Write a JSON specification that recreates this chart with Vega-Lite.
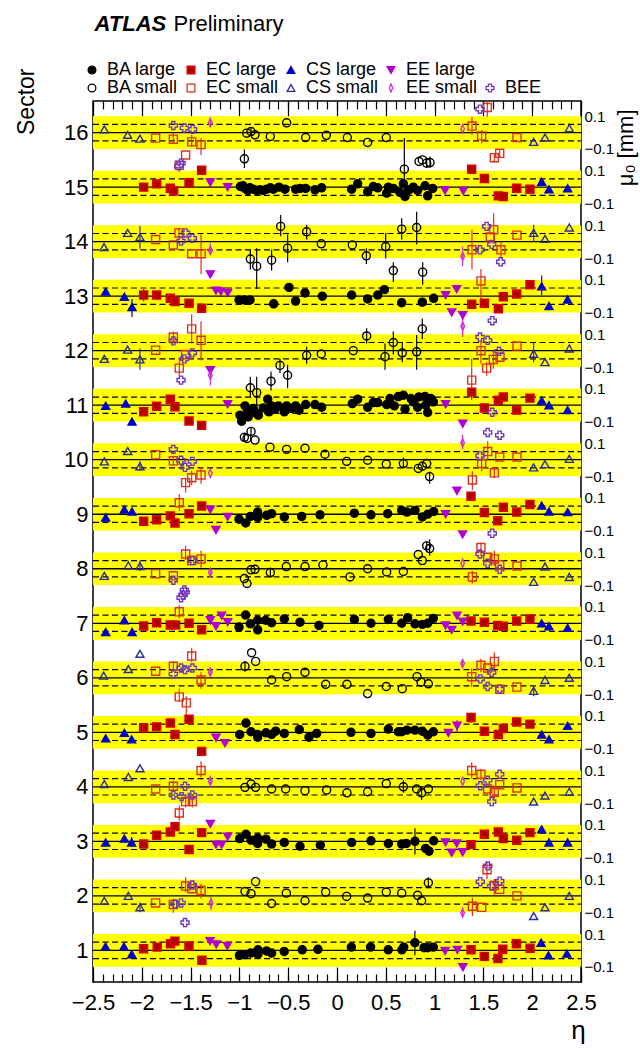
{
"$schema":"https://vega.github.io/schema/vega-lite/v6.json",
"autosize":{"type":"none"},
"padding":{"left":93,"top":101,"right":59,"bottom":76},
"width":488,"height":881,
"config":{"font":"Liberation Sans","view":{"stroke":"black","strokeWidth":1.5},"axis":{"labelColor":"black","titleColor":"black","tickColor":"black","grid":false,"domain":false,"labelFlush":false,"labelOverlap":false,"labelBound":false},"legend":{"labelColor":"black"}},
"datasets":{
"sec":[
{"sector":1,"bandlo":0.7,"bandhi":1.3,"dashlo":0.85,"dashhi":1.15},
{"sector":2,"bandlo":1.7,"bandhi":2.3,"dashlo":1.85,"dashhi":2.15},
{"sector":3,"bandlo":2.7,"bandhi":3.3,"dashlo":2.85,"dashhi":3.15},
{"sector":4,"bandlo":3.7,"bandhi":4.3,"dashlo":3.85,"dashhi":4.15},
{"sector":5,"bandlo":4.7,"bandhi":5.3,"dashlo":4.85,"dashhi":5.15},
{"sector":6,"bandlo":5.7,"bandhi":6.3,"dashlo":5.85,"dashhi":6.15},
{"sector":7,"bandlo":6.7,"bandhi":7.3,"dashlo":6.85,"dashhi":7.15},
{"sector":8,"bandlo":7.7,"bandhi":8.3,"dashlo":7.85,"dashhi":8.15},
{"sector":9,"bandlo":8.7,"bandhi":9.3,"dashlo":8.85,"dashhi":9.15},
{"sector":10,"bandlo":9.7,"bandhi":10.3,"dashlo":9.85,"dashhi":10.15},
{"sector":11,"bandlo":10.7,"bandhi":11.3,"dashlo":10.85,"dashhi":11.15},
{"sector":12,"bandlo":11.7,"bandhi":12.3,"dashlo":11.85,"dashhi":12.15},
{"sector":13,"bandlo":12.7,"bandhi":13.3,"dashlo":12.85,"dashhi":13.15},
{"sector":14,"bandlo":13.7,"bandhi":14.3,"dashlo":13.85,"dashhi":14.15},
{"sector":15,"bandlo":14.7,"bandhi":15.3,"dashlo":14.85,"dashhi":15.15},
{"sector":16,"bandlo":15.7,"bandhi":16.3,"dashlo":15.85,"dashhi":16.15}
],
"pts":[
{"series":"CS small","eta":-2.384,"pos":16.06},{"series":"CS small","eta":-2.145,"pos":15.96},{"series":"CS small","eta":-2.019,"pos":15.89},{"series":"CS small","eta":2.015,"pos":15.83},{"series":"CS small","eta":2.131,"pos":15.91},{"series":"CS small","eta":2.38,"pos":16.08},
{"series":"EC small","eta":-1.858,"pos":15.9},{"series":"EC small","eta":-1.677,"pos":15.88,"lo":15.79,"hi":15.99},{"series":"EC small","eta":-1.489,"pos":15.83,"lo":15.74,"hi":15.96},{"series":"EC small","eta":-1.393,"pos":15.78,"lo":15.59,"hi":15.9},{"series":"EC small","eta":-1.551,"pos":15.59},{"series":"EC small","eta":-1.616,"pos":15.4,"lo":15.28,"hi":15.48},{"series":"EC small","eta":1.383,"pos":16.12,"lo":15.96,"hi":16.29},{"series":"EC small","eta":1.482,"pos":15.94,"lo":15.8,"hi":16.05},{"series":"EC small","eta":1.54,"pos":16.46,"lo":16.29,"hi":16.58},{"series":"EC small","eta":1.612,"pos":15.54,"lo":15.45,"hi":15.62},{"series":"EC small","eta":1.667,"pos":15.62,"lo":15.55,"hi":15.7},{"series":"EC small","eta":1.844,"pos":15.91},
{"series":"BEE","eta":-1.677,"pos":16.13},{"series":"BEE","eta":-1.564,"pos":16.085},{"series":"BEE","eta":-1.479,"pos":16.06},{"series":"BEE","eta":-1.598,"pos":15.44},{"series":"BEE","eta":-1.62,"pos":15.39},{"series":"BEE","eta":1.465,"pos":16.43},
{"series":"EE small","eta":-1.298,"pos":16.18,"lo":16.11,"hi":16.28},{"series":"EE small","eta":1.287,"pos":16.07},
{"series":"BA small","eta":-0.949,"pos":15.52,"lo":15.35,"hi":15.69},{"series":"BA small","eta":-0.925,"pos":15.99},{"series":"BA small","eta":-0.881,"pos":16.02,"lo":15.95,"hi":16.1},{"series":"BA small","eta":-0.84,"pos":15.96},{"series":"BA small","eta":-0.683,"pos":15.93},{"series":"BA small","eta":-0.516,"pos":16.18},{"series":"BA small","eta":-0.321,"pos":15.91},{"series":"BA small","eta":-0.109,"pos":15.95},{"series":"BA small","eta":0.106,"pos":15.91},{"series":"BA small","eta":0.314,"pos":15.82},{"series":"BA small","eta":0.505,"pos":15.91},{"series":"BA small","eta":0.69,"pos":15.33,"lo":14.85,"hi":15.9},{"series":"BA small","eta":0.84,"pos":15.47},{"series":"BA small","eta":0.874,"pos":15.5},{"series":"BA small","eta":0.919,"pos":15.44,"lo":15.35,"hi":15.55},{"series":"BA small","eta":0.953,"pos":15.45,"lo":15.35,"hi":15.56},
{"series":"EC large","eta":-1.981,"pos":15.0},{"series":"EC large","eta":-1.848,"pos":15.06},{"series":"EC large","eta":-1.708,"pos":14.98},{"series":"EC large","eta":-1.674,"pos":14.93},{"series":"EC large","eta":-1.516,"pos":15.08},{"series":"EC large","eta":-1.387,"pos":15.31},{"series":"EC large","eta":1.38,"pos":15.33},{"series":"EC large","eta":1.51,"pos":15.16},{"series":"EC large","eta":1.653,"pos":14.84},{"series":"EC large","eta":1.704,"pos":14.83},{"series":"EC large","eta":1.841,"pos":14.98},{"series":"EC large","eta":1.977,"pos":14.96},
{"series":"EE large","eta":-1.298,"pos":15.085},{"series":"EE large","eta":-1.12,"pos":15.0},{"series":"EE large","eta":1.107,"pos":14.94},{"series":"EE large","eta":1.294,"pos":14.93},
{"series":"CS large","eta":2.097,"pos":15.1},{"series":"CS large","eta":2.172,"pos":14.96},{"series":"CS large","eta":2.363,"pos":14.98},
{"series":"BA large","eta":-0.99,"pos":15.012},{"series":"BA large","eta":-0.963,"pos":15.024},{"series":"BA large","eta":-0.943,"pos":14.976},{"series":"BA large","eta":-0.915,"pos":14.939},{"series":"BA large","eta":-0.891,"pos":14.988},{"series":"BA large","eta":-0.857,"pos":14.963},{"series":"BA large","eta":-0.823,"pos":14.939},{"series":"BA large","eta":-0.789,"pos":14.951},{"series":"BA large","eta":-0.755,"pos":14.939},{"series":"BA large","eta":-0.721,"pos":14.963},{"series":"BA large","eta":-0.683,"pos":14.988},{"series":"BA large","eta":-0.652,"pos":14.963},{"series":"BA large","eta":-0.594,"pos":15.0},{"series":"BA large","eta":-0.533,"pos":14.963},{"series":"BA large","eta":-0.424,"pos":14.963},{"series":"BA large","eta":-0.379,"pos":14.976},{"series":"BA large","eta":-0.321,"pos":14.976},{"series":"BA large","eta":-0.225,"pos":14.951},{"series":"BA large","eta":-0.157,"pos":14.988},
{"series":"BA large","eta":0.15,"pos":14.963},{"series":"BA large","eta":0.212,"pos":15.061},{"series":"BA large","eta":0.314,"pos":14.915},{"series":"BA large","eta":0.372,"pos":15.012},{"series":"BA large","eta":0.417,"pos":14.988},{"series":"BA large","eta":0.509,"pos":14.89},{"series":"BA large","eta":0.526,"pos":15.0},{"series":"BA large","eta":0.577,"pos":14.976},{"series":"BA large","eta":0.645,"pos":14.902},{"series":"BA large","eta":0.68,"pos":15.061},{"series":"BA large","eta":0.697,"pos":14.829},{"series":"BA large","eta":0.738,"pos":14.951},{"series":"BA large","eta":0.782,"pos":15.0},{"series":"BA large","eta":0.826,"pos":14.939},{"series":"BA large","eta":0.902,"pos":15.024},{"series":"BA large","eta":0.929,"pos":14.841},{"series":"BA large","eta":0.98,"pos":14.976},
{"series":"CS small","eta":-2.387,"pos":13.9},{"series":"CS small","eta":-2.145,"pos":14.16},{"series":"CS small","eta":-2.019,"pos":14.085,"lo":13.87,"hi":14.29},{"series":"CS small","eta":2.015,"pos":14.16,"lo":14.0,"hi":14.31},{"series":"CS small","eta":2.131,"pos":14.05},{"series":"CS small","eta":2.38,"pos":14.26},
{"series":"EC small","eta":-1.858,"pos":14.04},{"series":"EC small","eta":-1.619,"pos":14.16,"lo":14.07,"hi":14.25},{"series":"EC small","eta":-1.677,"pos":13.94},{"series":"EC small","eta":-1.489,"pos":13.78},{"series":"EC small","eta":-1.393,"pos":13.78,"lo":13.4,"hi":14.13},{"series":"EC small","eta":1.383,"pos":13.85,"lo":13.49,"hi":14.22},{"series":"EC small","eta":1.605,"pos":14.22,"lo":14.04,"hi":14.52},{"series":"EC small","eta":1.571,"pos":14.085},{"series":"EC small","eta":1.68,"pos":13.85,"lo":13.72,"hi":14.0},{"series":"EC small","eta":1.844,"pos":14.12},
{"series":"BEE","eta":-1.551,"pos":14.16},{"series":"BEE","eta":-1.598,"pos":14.01},{"series":"BEE","eta":-1.482,"pos":14.06},{"series":"BEE","eta":1.465,"pos":13.85},{"series":"BEE","eta":1.533,"pos":14.28},{"series":"BEE","eta":1.585,"pos":13.95},{"series":"BEE","eta":1.677,"pos":13.63},
{"series":"EE small","eta":-1.298,"pos":13.84,"lo":13.78,"hi":13.97},{"series":"EE small","eta":1.287,"pos":13.73,"lo":13.55,"hi":13.91},
{"series":"EE large","eta":-1.298,"pos":13.4},
{"series":"BA small","eta":-0.888,"pos":13.68,"lo":13.49,"hi":13.85},{"series":"BA small","eta":-0.823,"pos":13.55,"lo":13.13,"hi":13.88},{"series":"BA small","eta":-0.67,"pos":13.66,"lo":13.47,"hi":13.85},{"series":"BA small","eta":-0.577,"pos":14.28,"lo":14.1,"hi":14.49},{"series":"BA small","eta":-0.506,"pos":13.88,"lo":13.62,"hi":14.13},{"series":"BA small","eta":-0.311,"pos":14.18,"lo":14.04,"hi":14.31},{"series":"BA small","eta":-0.161,"pos":13.96},{"series":"BA small","eta":0.157,"pos":13.94},{"series":"BA small","eta":0.301,"pos":13.74,"lo":13.59,"hi":13.88},{"series":"BA small","eta":0.499,"pos":13.91,"lo":13.69,"hi":14.16},{"series":"BA small","eta":0.663,"pos":14.23,"lo":14.04,"hi":14.43},{"series":"BA small","eta":0.816,"pos":14.26,"lo":13.95,"hi":14.55},{"series":"BA small","eta":0.577,"pos":13.47,"lo":13.26,"hi":13.62},{"series":"BA small","eta":0.878,"pos":13.44,"lo":13.21,"hi":13.62},
{"series":"CS large","eta":-2.37,"pos":13.085},{"series":"CS large","eta":-2.179,"pos":12.99},{"series":"CS large","eta":-2.1,"pos":12.8,"lo":12.62,"hi":12.95},{"series":"CS large","eta":2.097,"pos":13.18,"lo":13.02,"hi":13.38},{"series":"CS large","eta":2.172,"pos":12.82},{"series":"CS large","eta":2.363,"pos":12.94},
{"series":"EC large","eta":-1.981,"pos":13.02,"lo":12.9,"hi":13.13},{"series":"EC large","eta":-1.848,"pos":13.02},{"series":"EC large","eta":-1.708,"pos":12.96},{"series":"EC large","eta":-1.66,"pos":12.9},{"series":"EC large","eta":-1.516,"pos":12.87},{"series":"EC large","eta":-1.387,"pos":12.78},{"series":"EC large","eta":1.38,"pos":12.85},{"series":"EC large","eta":1.51,"pos":12.87},{"series":"EC large","eta":1.653,"pos":12.77},{"series":"EC large","eta":1.704,"pos":12.99},{"series":"EC large","eta":1.841,"pos":13.04},{"series":"EC large","eta":1.977,"pos":13.21},
{"series":"EE large","eta":-1.24,"pos":13.1},{"series":"EE large","eta":-1.189,"pos":13.085},{"series":"EE large","eta":-1.12,"pos":13.06},{"series":"EE large","eta":1.113,"pos":13.02},{"series":"EE large","eta":1.226,"pos":13.13},{"series":"EE large","eta":1.175,"pos":12.7},{"series":"EE large","eta":1.288,"pos":12.65},
{"series":"EE small","eta":1.288,"pos":12.45,"lo":12.25,"hi":12.65},
{"series":"EC small","eta":1.475,"pos":13.28,"lo":12.95,"hi":13.5},
{"series":"BEE","eta":1.591,"pos":12.55},
{"series":"BA large","eta":-1.004,"pos":12.93},{"series":"BA large","eta":-0.95,"pos":12.93},{"series":"BA large","eta":-0.891,"pos":12.93},{"series":"BA large","eta":-0.649,"pos":12.86},{"series":"BA large","eta":-0.492,"pos":13.16},{"series":"BA large","eta":-0.424,"pos":12.91},{"series":"BA large","eta":-0.328,"pos":13.06},{"series":"BA large","eta":-0.15,"pos":13.0},{"series":"BA large","eta":0.15,"pos":13.02},{"series":"BA large","eta":0.314,"pos":12.95},{"series":"BA large","eta":0.417,"pos":13.02},{"series":"BA large","eta":0.485,"pos":13.12},{"series":"BA large","eta":0.663,"pos":12.88},{"series":"BA large","eta":0.874,"pos":12.89},{"series":"BA large","eta":0.99,"pos":12.96},
{"series":"CS small","eta":-2.384,"pos":11.85},{"series":"CS small","eta":-2.145,"pos":12.02},{"series":"CS small","eta":-2.019,"pos":11.84,"lo":11.65,"hi":12.04},{"series":"CS small","eta":2.015,"pos":11.945,"lo":11.79,"hi":12.16},{"series":"CS small","eta":2.131,"pos":11.79},{"series":"CS small","eta":2.38,"pos":12.04},
{"series":"EC small","eta":-1.858,"pos":12.01},{"series":"EC small","eta":-1.677,"pos":12.25,"lo":12.13,"hi":12.35},{"series":"EC small","eta":-1.489,"pos":12.4,"lo":12.13,"hi":12.67},{"series":"EC small","eta":-1.393,"pos":12.19,"lo":11.82,"hi":12.54},{"series":"EC small","eta":-1.551,"pos":11.93},{"series":"EC small","eta":-1.616,"pos":11.68,"lo":11.54,"hi":11.82},{"series":"EC small","eta":1.475,"pos":12.0,"lo":11.76,"hi":12.19},{"series":"EC small","eta":1.533,"pos":11.68,"lo":11.54,"hi":11.79},{"series":"EC small","eta":1.602,"pos":11.84,"lo":11.67,"hi":12.0},{"series":"EC small","eta":1.67,"pos":11.88},{"series":"EC small","eta":1.844,"pos":12.085},{"series":"EC small","eta":1.38,"pos":11.46,"lo":11.19,"hi":11.85},
{"series":"BEE","eta":-1.677,"pos":12.18},{"series":"BEE","eta":-1.482,"pos":11.96},{"series":"BEE","eta":-1.564,"pos":11.85},{"series":"BEE","eta":-1.598,"pos":11.46},{"series":"BEE","eta":1.465,"pos":12.25},{"series":"BEE","eta":1.544,"pos":12.19},{"series":"BEE","eta":1.66,"pos":11.99},
{"series":"EE large","eta":-1.298,"pos":11.64},
{"series":"EE small","eta":-1.298,"pos":11.55,"lo":11.36,"hi":11.64},
{"series":"BA small","eta":-0.888,"pos":11.32,"lo":11.13,"hi":11.52},{"series":"BA small","eta":-0.823,"pos":11.23,"lo":11.0,"hi":11.52},{"series":"BA small","eta":-0.676,"pos":11.44,"lo":11.27,"hi":11.62},{"series":"BA small","eta":-0.506,"pos":11.55,"lo":11.31,"hi":11.74},{"series":"BA small","eta":-0.584,"pos":11.73,"lo":11.59,"hi":11.85},{"series":"BA small","eta":-0.311,"pos":11.915,"lo":11.76,"hi":12.07},{"series":"BA small","eta":-0.161,"pos":11.94},{"series":"BA small","eta":0.167,"pos":12.0},{"series":"BA small","eta":0.304,"pos":12.27,"lo":12.13,"hi":12.41},{"series":"BA small","eta":0.492,"pos":11.89,"lo":11.65,"hi":12.13},{"series":"BA small","eta":0.577,"pos":12.15,"lo":11.93,"hi":12.35},{"series":"BA small","eta":0.669,"pos":11.96,"lo":11.79,"hi":12.16},{"series":"BA small","eta":0.816,"pos":11.98,"lo":11.65,"hi":12.29},{"series":"BA small","eta":0.874,"pos":12.4,"lo":12.21,"hi":12.59},
{"series":"CS large","eta":-2.37,"pos":10.99},{"series":"CS large","eta":-2.165,"pos":11.03},{"series":"CS large","eta":-2.1,"pos":10.7},{"series":"CS large","eta":2.097,"pos":11.085},{"series":"CS large","eta":2.172,"pos":11.0},{"series":"CS large","eta":2.363,"pos":10.91},
{"series":"EC large","eta":-1.981,"pos":10.88},{"series":"EC large","eta":-1.848,"pos":10.98},{"series":"EC large","eta":-1.708,"pos":11.11},{"series":"EC large","eta":-1.66,"pos":10.97,"lo":10.9,"hi":11.06},{"series":"EC large","eta":-1.516,"pos":10.71},{"series":"EC large","eta":-1.387,"pos":10.63},{"series":"EC large","eta":1.38,"pos":11.24,"lo":11.1,"hi":11.33},{"series":"EC large","eta":1.51,"pos":10.95},{"series":"EC large","eta":1.653,"pos":11.09},{"series":"EC large","eta":1.704,"pos":11.15},{"series":"EC large","eta":1.841,"pos":10.91},{"series":"EC large","eta":1.977,"pos":11.13},
{"series":"EE large","eta":-1.12,"pos":11.02},{"series":"EE large","eta":1.113,"pos":11.02},{"series":"EE large","eta":1.288,"pos":10.66},
{"series":"BEE","eta":1.591,"pos":10.87},
{"series":"BA large","eta":-0.994,"pos":10.817},{"series":"BA large","eta":-0.977,"pos":10.707},{"series":"BA large","eta":-0.943,"pos":10.988},{"series":"BA large","eta":-0.915,"pos":10.89},{"series":"BA large","eta":-0.909,"pos":10.787},{"series":"BA large","eta":-0.857,"pos":10.939},{"series":"BA large","eta":-0.823,"pos":10.848},{"series":"BA large","eta":-0.806,"pos":10.817},{"series":"BA large","eta":-0.755,"pos":10.951},{"series":"BA large","eta":-0.71,"pos":11.11},{"series":"BA large","eta":-0.697,"pos":10.878},{"series":"BA large","eta":-0.67,"pos":10.988},{"series":"BA large","eta":-0.635,"pos":10.927},{"series":"BA large","eta":-0.601,"pos":10.988},{"series":"BA large","eta":-0.54,"pos":10.878},{"series":"BA large","eta":-0.516,"pos":10.988},{"series":"BA large","eta":-0.465,"pos":10.939},{"series":"BA large","eta":-0.424,"pos":10.988},{"series":"BA large","eta":-0.389,"pos":10.909},{"series":"BA large","eta":-0.321,"pos":11.012},{"series":"BA large","eta":-0.225,"pos":11.012},{"series":"BA large","eta":-0.157,"pos":10.963},
{"series":"BA large","eta":0.157,"pos":11.03},{"series":"BA large","eta":0.212,"pos":11.11},{"series":"BA large","eta":0.314,"pos":10.963},{"series":"BA large","eta":0.372,"pos":11.049},{"series":"BA large","eta":0.417,"pos":11.049},{"series":"BA large","eta":0.509,"pos":11.012},{"series":"BA large","eta":0.543,"pos":11.122},{"series":"BA large","eta":0.587,"pos":10.988},{"series":"BA large","eta":0.628,"pos":11.159},{"series":"BA large","eta":0.68,"pos":11.183},{"series":"BA large","eta":0.697,"pos":10.927},{"series":"BA large","eta":0.758,"pos":11.122},{"series":"BA large","eta":0.782,"pos":11.061},{"series":"BA large","eta":0.826,"pos":10.963},{"series":"BA large","eta":0.84,"pos":11.152},{"series":"BA large","eta":0.902,"pos":11.159},{"series":"BA large","eta":0.908,"pos":11.0},{"series":"BA large","eta":0.929,"pos":10.866},{"series":"BA large","eta":0.963,"pos":11.122},{"series":"BA large","eta":0.987,"pos":11.061},
{"series":"BA small","eta":-0.949,"pos":10.41,"lo":10.33,"hi":10.5},{"series":"BA small","eta":-0.922,"pos":10.39},{"series":"BA small","eta":-0.881,"pos":10.52,"lo":10.44,"hi":10.6},{"series":"BA small","eta":-0.84,"pos":10.36},
{"series":"CS small","eta":-2.384,"pos":9.97},{"series":"CS small","eta":-2.145,"pos":10.16},{"series":"CS small","eta":-2.019,"pos":9.88,"lo":9.8,"hi":9.97},{"series":"CS small","eta":2.015,"pos":9.86},{"series":"CS small","eta":2.131,"pos":9.92},{"series":"CS small","eta":2.38,"pos":10.015},
{"series":"EC small","eta":-1.858,"pos":10.09},{"series":"EC small","eta":-1.677,"pos":9.98,"lo":9.89,"hi":10.07},{"series":"EC small","eta":-1.551,"pos":9.58,"lo":9.4,"hi":9.67},{"series":"EC small","eta":-1.489,"pos":9.67,"lo":9.53,"hi":9.8},{"series":"EC small","eta":-1.393,"pos":9.72,"lo":9.56,"hi":9.86},{"series":"EC small","eta":1.544,"pos":10.15,"lo":9.98,"hi":10.34},{"series":"EC small","eta":1.482,"pos":9.93,"lo":9.79,"hi":10.07},{"series":"EC small","eta":1.667,"pos":10.05},{"series":"EC small","eta":1.612,"pos":9.76,"lo":9.66,"hi":9.86},{"series":"EC small","eta":1.844,"pos":10.05},{"series":"EC small","eta":1.387,"pos":9.63,"lo":9.45,"hi":9.79},
{"series":"BEE","eta":-1.677,"pos":10.19},{"series":"BEE","eta":-1.598,"pos":9.99},{"series":"BEE","eta":-1.557,"pos":9.86},{"series":"BEE","eta":-1.482,"pos":9.97},{"series":"BEE","eta":1.544,"pos":10.5},{"series":"BEE","eta":1.667,"pos":10.45},{"series":"BEE","eta":1.465,"pos":10.07},
{"series":"EE small","eta":-1.298,"pos":9.75},{"series":"EE small","eta":1.287,"pos":10.31,"lo":10.19,"hi":10.46},
{"series":"BA small","eta":-0.687,"pos":10.23},{"series":"BA small","eta":-0.516,"pos":10.19},{"series":"BA small","eta":-0.328,"pos":10.21},{"series":"BA small","eta":-0.123,"pos":10.1},{"series":"BA small","eta":0.099,"pos":9.97},{"series":"BA small","eta":0.314,"pos":9.99},{"series":"BA small","eta":0.505,"pos":9.92},{"series":"BA small","eta":0.68,"pos":9.93,"lo":9.85,"hi":10.04},{"series":"BA small","eta":0.833,"pos":9.84},{"series":"BA small","eta":0.874,"pos":9.88},{"series":"BA small","eta":0.919,"pos":9.93},{"series":"BA small","eta":0.949,"pos":9.69,"lo":9.56,"hi":9.78},
{"series":"CS large","eta":-2.37,"pos":8.94},{"series":"CS large","eta":-2.179,"pos":9.085},{"series":"CS large","eta":-2.1,"pos":9.05},{"series":"CS large","eta":2.097,"pos":9.16},{"series":"CS large","eta":2.172,"pos":9.05},{"series":"CS large","eta":2.363,"pos":9.04},
{"series":"EC small","eta":-1.616,"pos":9.21,"lo":9.06,"hi":9.37},
{"series":"EC large","eta":-1.981,"pos":8.87},{"series":"EC large","eta":-1.848,"pos":8.9},{"series":"EC large","eta":-1.708,"pos":8.97},{"series":"EC large","eta":-1.66,"pos":8.84},{"series":"EC large","eta":-1.516,"pos":9.01},{"series":"EC large","eta":-1.387,"pos":9.15},{"series":"EC large","eta":1.373,"pos":9.33},{"series":"EC large","eta":1.51,"pos":9.03},{"series":"EC large","eta":1.704,"pos":9.13},{"series":"EC large","eta":1.646,"pos":8.88},{"series":"EC large","eta":1.841,"pos":9.04},{"series":"EC large","eta":1.977,"pos":9.18},
{"series":"EE large","eta":-1.298,"pos":9.085},{"series":"EE large","eta":-1.24,"pos":8.71},{"series":"EE large","eta":-1.12,"pos":8.95},{"series":"EE large","eta":1.113,"pos":9.0},{"series":"EE large","eta":1.229,"pos":9.43},{"series":"EE large","eta":1.287,"pos":8.63},
{"series":"BEE","eta":1.591,"pos":8.65},
{"series":"BA large","eta":-1.004,"pos":8.91},{"series":"BA large","eta":-0.936,"pos":8.84},{"series":"BA large","eta":-0.888,"pos":8.96},{"series":"BA large","eta":-0.813,"pos":9.04},{"series":"BA large","eta":-0.813,"pos":8.94},{"series":"BA large","eta":-0.721,"pos":8.98},{"series":"BA large","eta":-0.67,"pos":9.01},{"series":"BA large","eta":-0.54,"pos":8.95},{"series":"BA large","eta":-0.362,"pos":8.96},{"series":"BA large","eta":-0.174,"pos":8.99},{"series":"BA large","eta":0.178,"pos":9.02},{"series":"BA large","eta":0.348,"pos":8.99},{"series":"BA large","eta":0.519,"pos":9.01},{"series":"BA large","eta":0.663,"pos":9.07},{"series":"BA large","eta":0.717,"pos":9.04},{"series":"BA large","eta":0.799,"pos":9.07},{"series":"BA large","eta":0.874,"pos":8.95},{"series":"BA large","eta":0.929,"pos":9.0},{"series":"BA large","eta":0.99,"pos":9.05},
{"series":"CS small","eta":-2.384,"pos":7.87},{"series":"CS small","eta":-2.138,"pos":8.06},{"series":"CS small","eta":-2.019,"pos":8.05,"lo":7.96,"hi":8.15},{"series":"CS small","eta":2.015,"pos":7.76},{"series":"CS small","eta":2.131,"pos":8.04},{"series":"CS small","eta":2.38,"pos":7.85},
{"series":"EC small","eta":-1.858,"pos":7.91},{"series":"EC small","eta":-1.677,"pos":7.87},{"series":"EC small","eta":-1.551,"pos":8.27,"lo":8.16,"hi":8.42},{"series":"EC small","eta":-1.489,"pos":8.15},{"series":"EC small","eta":-1.393,"pos":8.18,"lo":8.02,"hi":8.33},{"series":"EC small","eta":1.387,"pos":7.85,"lo":7.73,"hi":7.96},{"series":"EC small","eta":1.475,"pos":8.39,"lo":8.24,"hi":8.48},{"series":"EC small","eta":1.544,"pos":8.21},{"series":"EC small","eta":1.612,"pos":8.18,"lo":8.05,"hi":8.33},{"series":"EC small","eta":1.667,"pos":8.07},{"series":"EC small","eta":1.844,"pos":8.05},
{"series":"BEE","eta":-1.677,"pos":7.79},{"series":"BEE","eta":-1.482,"pos":8.15},{"series":"BEE","eta":-1.564,"pos":7.61},{"series":"BEE","eta":1.465,"pos":8.27},{"series":"BEE","eta":1.544,"pos":8.1},{"series":"BEE","eta":1.667,"pos":7.99},
{"series":"EE small","eta":-1.298,"pos":7.93,"lo":7.86,"hi":8.02},{"series":"EE small","eta":1.287,"pos":8.1},
{"series":"BA small","eta":-0.949,"pos":7.82},{"series":"BA small","eta":-0.922,"pos":7.73},{"series":"BA small","eta":-0.881,"pos":7.98},{"series":"BA small","eta":-0.84,"pos":7.99},{"series":"BA small","eta":-0.683,"pos":7.93,"lo":7.84,"hi":8.02},{"series":"BA small","eta":-0.519,"pos":8.04},{"series":"BA small","eta":-0.328,"pos":8.04},{"series":"BA small","eta":-0.144,"pos":8.07},{"series":"BA small","eta":0.133,"pos":7.85},{"series":"BA small","eta":0.314,"pos":8.0},{"series":"BA small","eta":0.509,"pos":7.94},{"series":"BA small","eta":0.68,"pos":7.95},{"series":"BA small","eta":0.833,"pos":8.26},{"series":"BA small","eta":0.874,"pos":8.15},{"series":"BA small","eta":0.919,"pos":8.42,"lo":8.35,"hi":8.5},{"series":"BA small","eta":0.949,"pos":8.37,"lo":8.24,"hi":8.54},
{"series":"BEE","eta":-1.598,"pos":7.47},{"series":"BEE","eta":-1.557,"pos":7.57},{"series":"BEE","eta":-1.578,"pos":7.52},
{"series":"EC small","eta":-1.616,"pos":7.21,"lo":7.09,"hi":7.33},
{"series":"CS large","eta":-2.37,"pos":6.84},{"series":"CS large","eta":-2.179,"pos":7.055},{"series":"CS large","eta":-2.1,"pos":6.84},{"series":"CS large","eta":2.097,"pos":7.0},{"series":"CS large","eta":2.172,"pos":6.945},{"series":"CS large","eta":2.363,"pos":6.915},
{"series":"EC large","eta":-1.981,"pos":6.95},{"series":"EC large","eta":-1.848,"pos":7.01},{"series":"EC large","eta":-1.708,"pos":6.97},{"series":"EC large","eta":-1.653,"pos":6.97},{"series":"EC large","eta":-1.516,"pos":7.0},{"series":"EC large","eta":-1.387,"pos":6.88},{"series":"EC large","eta":1.373,"pos":7.04},{"series":"EC large","eta":1.51,"pos":7.02},{"series":"EC large","eta":1.646,"pos":6.96},{"series":"EC large","eta":1.704,"pos":6.945},{"series":"EC large","eta":1.841,"pos":7.04},{"series":"EC large","eta":1.977,"pos":7.08},
{"series":"EE large","eta":-1.298,"pos":7.055},{"series":"EE large","eta":-1.24,"pos":6.945},{"series":"EE large","eta":-1.182,"pos":7.14},{"series":"EE large","eta":-1.12,"pos":7.02},{"series":"EE large","eta":1.113,"pos":6.96},{"series":"EE large","eta":1.175,"pos":6.88},{"series":"EE large","eta":1.23,"pos":7.14},{"series":"EE large","eta":1.287,"pos":7.03},
{"series":"BA large","eta":-1.004,"pos":6.93},{"series":"BA large","eta":-0.936,"pos":7.15},{"series":"BA large","eta":-0.888,"pos":6.99},{"series":"BA large","eta":-0.813,"pos":7.055},{"series":"BA large","eta":-0.813,"pos":6.88},{"series":"BA large","eta":-0.731,"pos":7.055},{"series":"BA large","eta":-0.67,"pos":7.01},{"series":"BA large","eta":-0.54,"pos":7.08},{"series":"BA large","eta":-0.379,"pos":7.02},{"series":"BA large","eta":-0.185,"pos":6.96},{"series":"BA large","eta":0.178,"pos":7.07},{"series":"BA large","eta":0.348,"pos":7.0},{"series":"BA large","eta":0.526,"pos":7.07},{"series":"BA large","eta":0.663,"pos":7.0},{"series":"BA large","eta":0.724,"pos":7.1},{"series":"BA large","eta":0.799,"pos":6.99},{"series":"BA large","eta":0.874,"pos":6.98},{"series":"BA large","eta":0.929,"pos":7.0},{"series":"BA large","eta":0.987,"pos":7.09},
{"series":"CS small","eta":-2.391,"pos":6.04},{"series":"CS small","eta":-2.138,"pos":6.16},{"series":"CS small","eta":-2.019,"pos":6.44},{"series":"CS small","eta":2.015,"pos":5.76,"lo":5.66,"hi":5.86},{"series":"CS small","eta":2.131,"pos":5.96},{"series":"CS small","eta":2.38,"pos":6.0},
{"series":"EC small","eta":-1.858,"pos":6.12},{"series":"EC small","eta":-1.677,"pos":6.21,"lo":6.11,"hi":6.31},{"series":"EC small","eta":-1.489,"pos":6.4,"lo":6.29,"hi":6.55},{"series":"EC small","eta":-1.393,"pos":5.96,"lo":5.8,"hi":6.1},{"series":"EC small","eta":-1.616,"pos":5.65,"lo":5.56,"hi":5.8},{"series":"EC small","eta":-1.544,"pos":5.54,"lo":5.32,"hi":5.66},{"series":"EC small","eta":1.38,"pos":6.02,"lo":5.83,"hi":6.17},{"series":"EC small","eta":1.475,"pos":6.23,"lo":6.1,"hi":6.35},{"series":"EC small","eta":1.544,"pos":6.18},{"series":"EC small","eta":1.612,"pos":6.3,"lo":6.16,"hi":6.47},{"series":"EC small","eta":1.667,"pos":5.79},{"series":"EC small","eta":1.844,"pos":5.83},
{"series":"BEE","eta":-1.677,"pos":6.07},{"series":"BEE","eta":-1.598,"pos":6.18},{"series":"BEE","eta":-1.557,"pos":6.15},{"series":"BEE","eta":-1.482,"pos":6.18},{"series":"BEE","eta":1.468,"pos":5.98},{"series":"BEE","eta":1.585,"pos":6.1},{"series":"BEE","eta":1.544,"pos":5.84},{"series":"BEE","eta":1.667,"pos":5.79},
{"series":"EE small","eta":-1.298,"pos":6.1,"lo":6.02,"hi":6.19},{"series":"EE small","eta":1.287,"pos":6.26,"lo":6.19,"hi":6.34},
{"series":"BA small","eta":-0.943,"pos":6.21,"lo":6.11,"hi":6.31},{"series":"BA small","eta":-0.875,"pos":6.46},{"series":"BA small","eta":-0.834,"pos":6.3},{"series":"BA small","eta":-0.67,"pos":5.96},{"series":"BA small","eta":-0.516,"pos":6.02},{"series":"BA small","eta":-0.328,"pos":6.1},{"series":"BA small","eta":-0.116,"pos":5.88},{"series":"BA small","eta":0.102,"pos":5.88},{"series":"BA small","eta":0.314,"pos":5.71},{"series":"BA small","eta":0.505,"pos":5.84},{"series":"BA small","eta":0.669,"pos":5.8},{"series":"BA small","eta":0.82,"pos":6.02},{"series":"BA small","eta":0.861,"pos":5.92},{"series":"BA small","eta":0.936,"pos":5.89},
{"series":"CS large","eta":-2.37,"pos":4.89},{"series":"CS large","eta":-2.179,"pos":4.99},{"series":"CS large","eta":-2.104,"pos":4.87},{"series":"CS large","eta":2.097,"pos":4.96},{"series":"CS large","eta":2.172,"pos":4.87},{"series":"CS large","eta":2.363,"pos":5.12},
{"series":"EC large","eta":-1.981,"pos":5.085},{"series":"EC large","eta":-1.848,"pos":5.1},{"series":"EC large","eta":-1.708,"pos":5.17},{"series":"EC large","eta":-1.66,"pos":4.96},{"series":"EC large","eta":-1.516,"pos":5.24},{"series":"EC large","eta":-1.387,"pos":4.65},{"series":"EC large","eta":1.373,"pos":5.27,"lo":5.17,"hi":5.36},{"series":"EC large","eta":1.51,"pos":5.02},{"series":"EC large","eta":1.653,"pos":4.96},{"series":"EC large","eta":1.704,"pos":5.07},{"series":"EC large","eta":1.841,"pos":5.19},{"series":"EC large","eta":1.977,"pos":5.15},
{"series":"EE large","eta":-1.24,"pos":4.9},{"series":"EE large","eta":-1.148,"pos":4.8},{"series":"EE large","eta":1.141,"pos":4.99},{"series":"EE large","eta":1.23,"pos":5.12,"lo":5.0,"hi":5.22},
{"series":"BA large","eta":-0.997,"pos":4.96},{"series":"BA large","eta":-0.933,"pos":5.17},{"series":"BA large","eta":-0.881,"pos":5.01},{"series":"BA large","eta":-0.813,"pos":4.96},{"series":"BA large","eta":-0.813,"pos":4.91},{"series":"BA large","eta":-0.728,"pos":4.99},{"series":"BA large","eta":-0.67,"pos":4.96},{"series":"BA large","eta":-0.629,"pos":5.02},{"series":"BA large","eta":-0.54,"pos":4.98},{"series":"BA large","eta":-0.386,"pos":5.05},{"series":"BA large","eta":-0.287,"pos":4.91},{"series":"BA large","eta":-0.208,"pos":4.98},{"series":"BA large","eta":0.143,"pos":5.0},{"series":"BA large","eta":0.348,"pos":4.98},{"series":"BA large","eta":0.526,"pos":5.06},{"series":"BA large","eta":0.628,"pos":5.01},{"series":"BA large","eta":0.663,"pos":5.01},{"series":"BA large","eta":0.717,"pos":5.04},{"series":"BA large","eta":0.799,"pos":5.04},{"series":"BA large","eta":0.874,"pos":5.02},{"series":"BA large","eta":0.929,"pos":4.95},{"series":"BA large","eta":0.987,"pos":5.01},
{"series":"EC small","eta":-1.393,"pos":4.3,"lo":4.17,"hi":4.47},
{"series":"CS small","eta":-2.019,"pos":4.34},{"series":"CS small","eta":-2.138,"pos":4.18},{"series":"CS small","eta":-2.384,"pos":4.05},{"series":"CS small","eta":2.015,"pos":3.73},{"series":"CS small","eta":2.131,"pos":3.84},{"series":"CS small","eta":2.38,"pos":3.91},
{"series":"EC small","eta":-1.858,"pos":3.96},{"series":"EC small","eta":-1.677,"pos":4.01,"lo":3.9,"hi":4.11},{"series":"EC small","eta":-1.551,"pos":3.73,"lo":3.62,"hi":3.84},{"series":"EC small","eta":-1.482,"pos":3.73,"lo":3.62,"hi":3.84},{"series":"EC small","eta":-1.616,"pos":3.52,"lo":3.38,"hi":3.66},{"series":"EC small","eta":1.38,"pos":4.3,"lo":4.15,"hi":4.45},{"series":"EC small","eta":1.475,"pos":4.23,"lo":4.12,"hi":4.33},{"series":"EC small","eta":1.544,"pos":3.96},{"series":"EC small","eta":1.612,"pos":3.9,"lo":3.78,"hi":4.02},{"series":"EC small","eta":1.667,"pos":4.04},{"series":"EC small","eta":1.844,"pos":3.98},
{"series":"BEE","eta":-1.557,"pos":4.01},{"series":"BEE","eta":-1.677,"pos":3.85},{"series":"BEE","eta":-1.592,"pos":3.82},{"series":"BEE","eta":-1.482,"pos":3.85},{"series":"BEE","eta":1.544,"pos":4.12},{"series":"BEE","eta":1.667,"pos":4.23},{"series":"BEE","eta":1.468,"pos":4.02},{"series":"BEE","eta":1.585,"pos":3.73},
{"series":"EE small","eta":-1.298,"pos":4.1,"lo":3.99,"hi":4.21},{"series":"EE small","eta":1.287,"pos":4.1},
{"series":"BA small","eta":-0.943,"pos":3.99},{"series":"BA small","eta":-0.881,"pos":4.05},{"series":"BA small","eta":-0.834,"pos":3.99},{"series":"BA small","eta":-0.67,"pos":3.96},{"series":"BA small","eta":-0.526,"pos":3.96},{"series":"BA small","eta":-0.328,"pos":3.93},{"series":"BA small","eta":-0.106,"pos":3.94},{"series":"BA small","eta":0.102,"pos":3.89},{"series":"BA small","eta":0.314,"pos":3.91},{"series":"BA small","eta":0.505,"pos":4.06},{"series":"BA small","eta":0.68,"pos":4.0,"lo":3.89,"hi":4.12},{"series":"BA small","eta":0.816,"pos":3.96},{"series":"BA small","eta":0.867,"pos":3.89,"lo":3.76,"hi":4.0},{"series":"BA small","eta":0.936,"pos":3.96},
{"series":"CS large","eta":-2.37,"pos":2.98},{"series":"CS large","eta":-2.179,"pos":3.05},{"series":"CS large","eta":-2.104,"pos":2.98,"lo":2.9,"hi":3.08},{"series":"CS large","eta":2.097,"pos":3.22},{"series":"CS large","eta":2.172,"pos":2.98},{"series":"CS large","eta":2.363,"pos":2.98},
{"series":"EC large","eta":-1.981,"pos":2.95},{"series":"EC large","eta":-1.848,"pos":3.11},{"series":"EC large","eta":-1.708,"pos":3.17},{"series":"EC large","eta":-1.66,"pos":3.27},{"series":"EC large","eta":-1.516,"pos":2.85},{"series":"EC large","eta":-1.387,"pos":3.16},{"series":"EC large","eta":1.373,"pos":2.94},{"series":"EC large","eta":1.51,"pos":3.13},{"series":"EC large","eta":1.653,"pos":3.17},{"series":"EC large","eta":1.704,"pos":3.05},{"series":"EC large","eta":1.841,"pos":3.02},{"series":"EC large","eta":1.977,"pos":3.16},
{"series":"EE large","eta":-1.298,"pos":3.32},{"series":"EE large","eta":-1.24,"pos":2.94},{"series":"EE large","eta":-1.182,"pos":2.94},{"series":"EE large","eta":-1.12,"pos":3.085},{"series":"EE large","eta":1.113,"pos":2.98},{"series":"EE large","eta":1.175,"pos":2.79},{"series":"EE large","eta":1.226,"pos":2.96},{"series":"EE large","eta":1.287,"pos":2.8},
{"series":"BA large","eta":-0.997,"pos":3.05},{"series":"BA large","eta":-0.933,"pos":3.13},{"series":"BA large","eta":-0.881,"pos":3.02},{"series":"BA large","eta":-0.813,"pos":3.06},{"series":"BA large","eta":-0.813,"pos":2.96},{"series":"BA large","eta":-0.728,"pos":3.04},{"series":"BA large","eta":-0.67,"pos":2.95},{"series":"BA large","eta":-0.54,"pos":2.98},{"series":"BA large","eta":-0.379,"pos":2.91},{"series":"BA large","eta":-0.171,"pos":2.93},{"series":"BA large","eta":0.15,"pos":2.98},{"series":"BA large","eta":0.348,"pos":3.01},{"series":"BA large","eta":0.526,"pos":2.96},{"series":"BA large","eta":0.663,"pos":2.95},{"series":"BA large","eta":0.71,"pos":2.96},{"series":"BA large","eta":0.799,"pos":3.0,"lo":2.76,"hi":3.24},{"series":"BA large","eta":0.908,"pos":2.87},{"series":"BA large","eta":0.943,"pos":2.82},{"series":"BA large","eta":0.99,"pos":3.01},
{"series":"CS small","eta":-2.384,"pos":1.91},{"series":"CS small","eta":-2.138,"pos":2.0},{"series":"CS small","eta":-2.019,"pos":1.79,"lo":1.7,"hi":1.88},{"series":"CS small","eta":2.015,"pos":1.63},{"series":"CS small","eta":2.131,"pos":1.79},{"series":"CS small","eta":2.38,"pos":2.0},
{"series":"EC small","eta":-1.858,"pos":1.87},{"series":"EC small","eta":-1.551,"pos":2.18,"lo":2.07,"hi":2.34},{"series":"EC small","eta":-1.489,"pos":2.13},{"series":"EC small","eta":-1.393,"pos":2.1,"lo":1.95,"hi":2.22},{"series":"EC small","eta":-1.677,"pos":1.84,"lo":1.69,"hi":1.95},{"series":"EC small","eta":1.387,"pos":1.81,"lo":1.63,"hi":1.97},{"series":"EC small","eta":1.482,"pos":1.79},{"series":"EC small","eta":1.537,"pos":2.48,"lo":2.31,"hi":2.62},{"series":"EC small","eta":1.612,"pos":2.19,"lo":2.02,"hi":2.31},{"series":"EC small","eta":1.667,"pos":2.12},{"series":"EC small","eta":1.844,"pos":2.0},
{"series":"BEE","eta":-1.482,"pos":2.2},{"series":"BEE","eta":-1.66,"pos":1.85},{"series":"BEE","eta":-1.598,"pos":1.87},{"series":"BEE","eta":-1.557,"pos":1.51},{"series":"BEE","eta":1.544,"pos":2.55},{"series":"BEE","eta":1.468,"pos":2.26},{"series":"BEE","eta":1.667,"pos":2.27},{"series":"BEE","eta":1.585,"pos":2.18},
{"series":"EE small","eta":-1.291,"pos":1.87,"lo":1.74,"hi":1.98},{"series":"EE small","eta":1.287,"pos":1.69,"lo":1.59,"hi":1.79},
{"series":"BA small","eta":-0.943,"pos":2.08},{"series":"BA small","eta":-0.881,"pos":2.04},{"series":"BA small","eta":-0.834,"pos":2.26},{"series":"BA small","eta":-0.67,"pos":1.86},{"series":"BA small","eta":-0.519,"pos":2.05},{"series":"BA small","eta":-0.328,"pos":1.91},{"series":"BA small","eta":-0.116,"pos":2.07},{"series":"BA small","eta":0.099,"pos":1.99},{"series":"BA small","eta":0.314,"pos":1.96},{"series":"BA small","eta":0.505,"pos":2.07},{"series":"BA small","eta":0.663,"pos":2.05},{"series":"BA small","eta":0.826,"pos":2.01},{"series":"BA small","eta":0.867,"pos":1.91},{"series":"BA small","eta":0.936,"pos":2.24,"lo":2.14,"hi":2.34},
{"series":"CS large","eta":-2.372,"pos":1.07},{"series":"CS large","eta":-2.183,"pos":1.07},{"series":"CS large","eta":-2.103,"pos":0.93},{"series":"CS large","eta":2.091,"pos":1.14},{"series":"CS large","eta":2.167,"pos":0.91},{"series":"CS large","eta":2.356,"pos":0.94},
{"series":"EC large","eta":-1.982,"pos":1.03},{"series":"EC large","eta":-1.842,"pos":1.06},{"series":"EC large","eta":-1.706,"pos":1.12},{"series":"EC large","eta":-1.661,"pos":1.17},{"series":"EC large","eta":-1.517,"pos":1.08},{"series":"EC large","eta":-1.384,"pos":0.82},{"series":"EC large","eta":1.373,"pos":1.01},{"series":"EC large","eta":1.509,"pos":0.89},{"series":"EC large","eta":1.649,"pos":0.85},{"series":"EC large","eta":1.698,"pos":1.02},{"series":"EC large","eta":1.838,"pos":1.12},{"series":"EC large","eta":1.978,"pos":1.04},
{"series":"EE large","eta":-1.301,"pos":1.17},{"series":"EE large","eta":-1.237,"pos":1.11},{"series":"EE large","eta":-1.124,"pos":1.08},{"series":"EE large","eta":1.108,"pos":0.99},{"series":"EE large","eta":1.233,"pos":1.01},{"series":"EE large","eta":1.29,"pos":0.69},
{"series":"BA large","eta":-1.0,"pos":0.91},{"series":"BA large","eta":-0.95,"pos":0.92},{"series":"BA large","eta":-0.885,"pos":0.95},{"series":"BA large","eta":-0.81,"pos":1.01},{"series":"BA large","eta":-0.81,"pos":0.93},{"series":"BA large","eta":-0.723,"pos":0.99},{"series":"BA large","eta":-0.67,"pos":0.95},{"series":"BA large","eta":-0.541,"pos":0.98},{"series":"BA large","eta":-0.356,"pos":1.01},{"series":"BA large","eta":-0.195,"pos":1.02},{"series":"BA large","eta":0.147,"pos":1.06},{"series":"BA large","eta":0.344,"pos":1.06},{"series":"BA large","eta":0.525,"pos":1.01},{"series":"BA large","eta":0.665,"pos":1.01},{"series":"BA large","eta":0.684,"pos":1.06},{"series":"BA large","eta":0.798,"pos":1.14,"lo":0.91,"hi":1.36},{"series":"BA large","eta":0.892,"pos":1.05},{"series":"BA large","eta":0.93,"pos":1.05},{"series":"BA large","eta":0.987,"pos":1.06}
]},
"resolve":{"axis":{"x":"independent","y":"independent"}},
"layer":[
{"data":{"name":"sec"},"mark":{"type":"rect","fill":"#ffff00","stroke":null},
 "encoding":{
  "x":{"datum":-2.5,"type":"quantitative","scale":{"domain":[-2.5,2.5],"nice":false,"zero":false},
   "axis":{"orient":"bottom","values":[-2.5,-2,-1.5,-1,-0.5,0,0.5,1,1.5,2,2.5],"format":"~g","tickSize":-15,"tickWidth":1.2,"labelFontSize":22,"labelPadding":25,"labelBaseline":"top","title":"η","titleFontSize":26,"titleFontWeight":"normal","titleX":485,"titleY":48,"titleAlign":"center","titleBaseline":"middle"}},
  "x2":{"datum":2.5},
  "y":{"field":"bandlo","type":"quantitative","scale":{"domain":[0.42,16.58],"nice":false,"zero":false},
   "axis":{"orient":"left","values":[1,2,3,4,5,6,7,8,9,10,11,12,13,14,15,16],"ticks":false,"labelFontSize":22,"labelPadding":5,"title":"Sector","titleFontSize":23,"titleFontWeight":"normal","titleAngle":270,"titleAlign":"right","titleBaseline":"middle","titleX":-67,"titleY":-33}},
  "y2":{"field":"bandhi"}}},
{"data":{"name":"sec"},"mark":{"type":"rule","color":"black","strokeWidth":1.3},
 "encoding":{
  "x":{"datum":-2.5,"type":"quantitative","axis":{"orient":"bottom","values":[-2.5,-2.4,-2.3,-2.2,-2.1,-2,-1.9,-1.8,-1.7,-1.6,-1.5,-1.4,-1.3,-1.2,-1.1,-1,-0.9,-0.8,-0.7,-0.6,-0.5,-0.4,-0.3,-0.2,-0.1,0,0.1,0.2,0.3,0.4,0.5,0.6,0.7,0.8,0.9,1,1.1,1.2,1.3,1.4,1.5,1.6,1.7,1.8,1.9,2,2.1,2.2,2.3,2.4,2.5],"tickSize":-8,"tickWidth":1.2,"labels":false,"title":null}},
  "x2":{"datum":2.5},
  "y":{"field":"sector","type":"quantitative","axis":{"orient":"right","values":[0.7,1.3,1.7,2.3,2.7,3.3,3.7,4.3,4.7,5.3,5.7,6.3,6.7,7.3,7.7,8.3,8.7,9.3,9.7,10.3,10.7,11.3,11.7,12.3,12.7,13.3,13.7,14.3,14.7,15.3,15.7,16.3],"labelExpr":"datum.value > round(datum.value) ? '0.1' : '−0.1'","ticks":false,"labelFontSize":15,"labelPadding":3,"title":"μ₀ [mm]","titleFontSize":22,"titleFontWeight":"normal","titleAngle":270,"titleAlign":"right","titleBaseline":"middle","titleX":44,"titleY":8}}}},
{"data":{"name":"sec"},"mark":{"type":"rule","color":"black","strokeWidth":1.2,"strokeDash":[6,3.5]},
 "encoding":{
  "x":{"datum":-2.5,"type":"quantitative","axis":{"orient":"top","values":[-2.5,-2,-1.5,-1,-0.5,0,0.5,1,1.5,2,2.5],"tickSize":-15,"tickWidth":1.2,"labels":false,"title":"ATLAS","titleFontSize":22,"titleFontStyle":"italic","titleFontWeight":"bold","titleX":1,"titleY":-71,"titleAlign":"left","titleBaseline":"alphabetic","titleAngle":0}},
  "x2":{"datum":2.5},
  "y":{"field":"dashlo","type":"quantitative","axis":null}}},
{"data":{"name":"sec"},"mark":{"type":"rule","color":"black","strokeWidth":1.2,"strokeDash":[6,3.5]},
 "encoding":{
  "x":{"datum":-2.5,"type":"quantitative","axis":{"orient":"top","values":[-2.5,-2.4,-2.3,-2.2,-2.1,-2,-1.9,-1.8,-1.7,-1.6,-1.5,-1.4,-1.3,-1.2,-1.1,-1,-0.9,-0.8,-0.7,-0.6,-0.5,-0.4,-0.3,-0.2,-0.1,0,0.1,0.2,0.3,0.4,0.5,0.6,0.7,0.8,0.9,1,1.1,1.2,1.3,1.4,1.5,1.6,1.7,1.8,1.9,2,2.1,2.2,2.3,2.4,2.5],"tickSize":-8,"tickWidth":1.2,"labels":false,"title":"Preliminary","titleFontSize":22,"titleFontWeight":"normal","titleX":80,"titleY":-71,"titleAlign":"left","titleBaseline":"alphabetic","titleAngle":0}},
  "x2":{"datum":2.5},
  "y":{"field":"dashhi","type":"quantitative","axis":null}}},
{"data":{"name":"pts"},"transform":[{"filter":"isValid(datum.lo)"}],"mark":{"type":"rule","strokeWidth":1.2},
 "encoding":{
  "x":{"field":"eta","type":"quantitative","axis":null},
  "y":{"field":"lo","type":"quantitative","axis":null},
  "y2":{"field":"hi"},
  "stroke":{"field":"series","type":"nominal","scale":{"domain":["BA large","EC large","CS large","EE large"," ","BA small","EC small","CS small","EE small","BEE"],"range":["#000000","#e00000","#0000cc","#b000d8","transparent","#000000","#e0301e","#2b2b9a","#d030d8","#7038c0"]}}}},
{"data":{"name":"pts"},"mark":{"type":"point","opacity":1,"strokeWidth":1.4,"size":65},
 "encoding":{
  "x":{"field":"eta","type":"quantitative","axis":null},
  "y":{"field":"pos","type":"quantitative","axis":null},
  "shape":{"field":"series","type":"nominal","scale":{"domain":["BA large","EC large","CS large","EE large"," ","BA small","EC small","CS small","EE small","BEE"],"range":["circle","square","triangle-up","triangle-down","circle","circle","square","triangle-up","M0,-1L0.45,0L0,1L-0.45,0Z","cross"]},
   "legend":{"title":null,"orient":"none","direction":"horizontal","values":["BA large","EC large","CS large","EE large"," ","BA small","EC small","CS small","EE small","BEE"],"legendX":-10,"legendY":-40,"columns":5,"columnPadding":3,"rowPadding":0,"padding":0,"labelFontSize":18,"labelOffset":6,"symbolSize":60,"symbolStrokeWidth":1.3,"symbolOffset":0}},
  "fill":{"field":"series","type":"nominal","scale":{"domain":["BA large","EC large","CS large","EE large"," ","BA small","EC small","CS small","EE small","BEE"],"range":["#000000","#b00000","#0000cc","#b000d8","transparent","transparent","transparent","transparent","transparent","transparent"]}},
  "stroke":{"field":"series","type":"nominal"}}}
]
}
